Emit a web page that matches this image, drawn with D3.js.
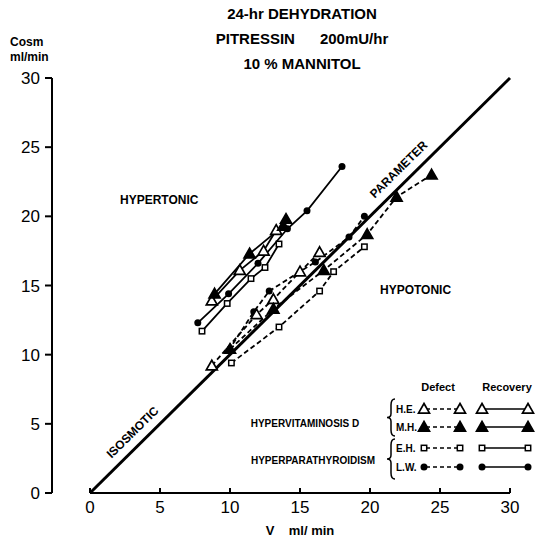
<!DOCTYPE html>
<html lang="en">
<head>
<meta charset="UTF-8">
<title>24-hr Dehydration</title>
<style>
  body { margin: 0; background: #fff; }
  text { font-family: "Liberation Sans", Arial, sans-serif; font-weight: bold; fill: #000; }
</style>
</head>
<body>
<div id="chart"></div>
<script src="https://d3js.org/d3.v7.min.js"></script>
<script>
// axis ticks
const xTicks = [0, 5, 10, 15, 20, 25, 30];
const yTicks = [0, 5, 10, 15, 20, 25, 30];

// [V ml/min, Cosm ml/min]
// defect (dashed lines)
const heDefect = [[8.7, 9.2], [11.9, 12.9], [13.1, 14.0], [15.0, 16.0], [16.4, 17.4]];
const mhDefect = [[10.0, 10.4], [13.1, 13.3], [16.7, 16.1], [19.8, 18.7], [21.9, 21.4], [24.4, 23.0]];
const ehDefect = [[10.1, 9.4], [13.5, 12.0], [16.4, 14.6], [17.4, 16.0], [19.6, 17.8]];
const lwDefect = [[9.9, 10.3], [11.7, 13.1], [12.8, 14.6], [16.1, 16.7], [18.5, 18.5], [19.6, 20.0]];
// recovery (solid lines)
const heRecovery = [[8.7, 13.9], [10.7, 16.1], [12.4, 17.5], [13.3, 19.0]];
const mhRecovery = [[8.9, 14.4], [11.4, 17.3], [13.8, 19.3], [14.0, 19.8]];
const ehRecovery = [[8.0, 11.7], [9.8, 13.7], [11.5, 15.5], [12.5, 16.3], [13.5, 18.0]];
const lwRecovery = [[7.7, 12.3], [9.9, 14.4], [12.0, 16.6], [14.1, 19.1], [15.5, 20.4], [18.0, 23.6]];

const series = [
  { data: ehDefect, shape: "square", dashed: true },
  { data: lwDefect, shape: "circle", dashed: true },
  { data: heDefect, shape: "triOpen", dashed: true },
  { data: mhDefect, shape: "triFill", dashed: true },
  { data: ehRecovery, shape: "square", dashed: false },
  { data: lwRecovery, shape: "circle", dashed: false },
  { data: heRecovery, shape: "triOpen", dashed: false },
  { data: mhRecovery, shape: "triFill", dashed: false }
];

const width = 550, height = 539;
const svg = d3.select("#chart").append("svg")
  .attr("width", width).attr("height", height);

const x = d3.scaleLinear().domain([0, 30]).range([90, 510]);
const y = d3.scaleLinear().domain([0, 30]).range([493, 78]);

// title
const title = ["24-hr DEHYDRATION", "PITRESSIN      200mU/hr", "10 % MANNITOL"];
svg.selectAll(".title").data(title).enter().append("text")
  .attr("x", 302).attr("y", (d, i) => 19 + i * 25)
  .attr("text-anchor", "middle").style("font-size", "15px")
  .attr("xml:space", "preserve")
  .text(d => d);

svg.append("text").attr("x", 10).attr("y", 46).style("font-size", "12px").text("Cosm");
svg.append("text").attr("x", 10).attr("y", 61).style("font-size", "12px").text("ml/min");

// y axis (offset to the left of x = 0)
svg.append("line").attr("x1", 52).attr("x2", 52)
  .attr("y1", y(30)).attr("y2", y(0)).attr("stroke", "#000").attr("stroke-width", 2);
svg.selectAll(".ytick").data(yTicks).enter().append("line")
  .attr("x1", 45).attr("x2", 52).attr("y1", d => y(d)).attr("y2", d => y(d))
  .attr("stroke", "#000").attr("stroke-width", 2);
svg.selectAll(".ylab").data(yTicks).enter().append("text")
  .attr("x", 40).attr("y", d => y(d) + 6).attr("text-anchor", "end")
  .style("font-size", "17px").style("font-weight", "normal").text(d => d);

// x axis
svg.append("line").attr("x1", x(0)).attr("x2", x(30))
  .attr("y1", y(0)).attr("y2", y(0)).attr("stroke", "#000").attr("stroke-width", 2);
svg.selectAll(".xtick").data(xTicks).enter().append("line")
  .attr("x1", d => x(d)).attr("x2", d => x(d)).attr("y1", y(0)).attr("y2", y(0) - 5)
  .attr("stroke", "#000").attr("stroke-width", 2);
svg.selectAll(".xlab").data(xTicks).enter().append("text")
  .attr("x", d => x(d)).attr("y", 513).attr("text-anchor", "middle")
  .style("font-size", "17px").style("font-weight", "normal").text(d => d);
svg.append("text").attr("x", 300).attr("y", 535).attr("text-anchor", "middle")
  .attr("xml:space", "preserve").style("font-size", "13px").text("V    ml/ min");

// isosmotic line
svg.append("line").attr("x1", x(0)).attr("y1", y(0)).attr("x2", x(30)).attr("y2", y(30))
  .attr("stroke", "#000").attr("stroke-width", 3);
const ang = -Math.atan2(y(0) - y(30), x(30) - x(0)) * 180 / Math.PI;
svg.append("text").attr("transform", `translate(${x(3.6) - 5},${y(3.6) - 8}) rotate(${ang})`)
  .attr("text-anchor", "middle").style("font-size", "12px").text("ISOSMOTIC");
svg.append("text").attr("transform", `translate(${x(22.6) - 5},${y(22.6) - 8}) rotate(${ang})`)
  .attr("text-anchor", "middle").style("font-size", "12px").text("PARAMETER");

svg.append("text").attr("x", 120).attr("y", 204).style("font-size", "12px").text("HYPERTONIC");
svg.append("text").attr("x", 380).attr("y", 294).style("font-size", "12px").text("HYPOTONIC");

// markers
function marker(g, shape, cx, cy) {
  if (shape === "square") {
    g.append("rect").attr("x", cx - 2.7).attr("y", cy - 2.7).attr("width", 5.4).attr("height", 5.4)
      .attr("fill", "#fff").attr("stroke", "#000").attr("stroke-width", 1.5);
  } else if (shape === "circle") {
    g.append("circle").attr("cx", cx).attr("cy", cy).attr("r", 3.5).attr("fill", "#000");
  } else {
    const s = 5.5;
    g.append("path")
      .attr("d", `M${cx},${cy - s}L${cx + s},${cy + s * 0.75}L${cx - s},${cy + s * 0.75}Z`)
      .attr("fill", shape === "triFill" ? "#000" : "#fff")
      .attr("stroke", "#000").attr("stroke-width", 1.7);
  }
}

const line = d3.line().x(d => x(d[0])).y(d => y(d[1]));
series.forEach(s => {
  svg.append("path").attr("d", line(s.data)).attr("fill", "none")
    .attr("stroke", "#000").attr("stroke-width", 1.8)
    .attr("stroke-dasharray", s.dashed ? "5,3" : null);
});
series.forEach(s => {
  const g = svg.append("g");
  s.data.forEach(d => marker(g, s.shape, x(d[0]), y(d[1])));
});

// legend
const legendRows = [
  { label: "H.E.", shape: "triOpen", ly: 409 },
  { label: "M.H.", shape: "triFill", ly: 427 },
  { label: "E.H.", shape: "square", ly: 448 },
  { label: "L.W.", shape: "circle", ly: 467 }
];
svg.append("text").attr("x", 438).attr("y", 391).attr("text-anchor", "middle")
  .style("font-size", "11px").text("Defect");
svg.append("text").attr("x", 507).attr("y", 391).attr("text-anchor", "middle")
  .style("font-size", "11px").text("Recovery");
const lg = svg.append("g");
legendRows.forEach(r => {
  lg.append("text").attr("x", 396).attr("y", r.ly + 4).style("font-size", "10px").text(r.label);
  lg.append("line").attr("x1", 426).attr("x2", 458).attr("y1", r.ly).attr("y2", r.ly)
    .attr("stroke", "#000").attr("stroke-width", 1.5).attr("stroke-dasharray", "4,3");
  lg.append("line").attr("x1", 482).attr("x2", 528).attr("y1", r.ly).attr("y2", r.ly)
    .attr("stroke", "#000").attr("stroke-width", 1.5);
  [424, 460, 482, 528].forEach(px => marker(lg, r.shape, px, r.ly));
});
// braces
function brace(x0, y0, y1) {
  const m = (y0 + y1) / 2;
  return `M${x0 + 4},${y0} Q${x0},${y0} ${x0},${y0 + 6} L${x0},${m - 4} Q${x0},${m} ${x0 - 4},${m}` +
    ` Q${x0},${m} ${x0},${m + 4} L${x0},${y1 - 6} Q${x0},${y1} ${x0 + 4},${y1}`;
}
lg.append("path").attr("d", brace(391, 399, 436)).attr("fill", "none").attr("stroke", "#000").attr("stroke-width", 1.5);
lg.append("path").attr("d", brace(391, 439, 479)).attr("fill", "none").attr("stroke", "#000").attr("stroke-width", 1.5);
svg.append("text").attr("x", 305).attr("y", 427).attr("text-anchor", "middle")
  .style("font-size", "10px").text("HYPERVITAMINOSIS D");
svg.append("text").attr("x", 313).attr("y", 464).attr("text-anchor", "middle")
  .style("font-size", "10px").text("HYPERPARATHYROIDISM");
</script>
</body>
</html>
